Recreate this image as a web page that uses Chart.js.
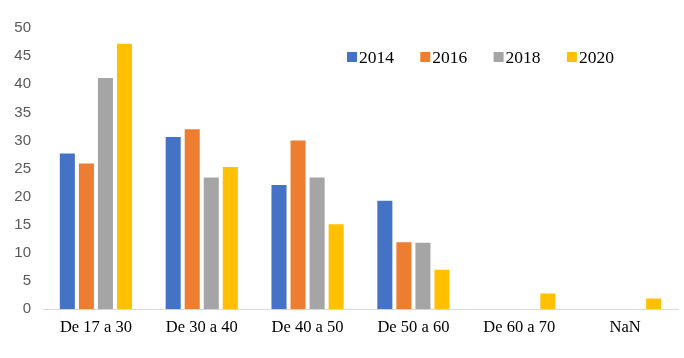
<!DOCTYPE html>
<html>
<head>
<meta charset="utf-8">
<script src="https://cdn.jsdelivr.net/npm/chart.js@4"></script>
<style>
html,body{margin:0;padding:0;background:#fff;}
#wrap{width:684px;height:358px;}
</style>
</head>
<body>
<div id="wrap"><canvas id="c" width="684" height="358"></canvas></div>
<script>
const categories = ["De 17 a 30", "De 30 a 40", "De 40 a 50", "De 50 a 60", "De 60 a 70", "NaN"];
const seriesLabels = ["2014", "2016", "2018", "2020"];
const s2014 = [27.7, 30.6, 22.1, 19.3, 0, 0];
const s2016 = [25.9, 32.0, 30.0, 11.9, 0, 0];
const s2018 = [41.1, 23.4, 23.4, 11.8, 0, 0];
const s2020 = [47.2, 25.3, 15.1, 7.0, 2.8, 1.9];
const yTicks = [0, 5, 10, 15, 20, 25, 30, 35, 40, 45, 50];
const colors = ["#4472C4", "#ED7D31", "#A5A5A5", "#FFC000"];

const legendPlugin = {
  id: 'customLegend',
  afterDraw(chart) {
    const ctx = chart.ctx;
    const startX = 347, y = 57, step = 73.3;
    ctx.save();
    ctx.font = '17.5px "Liberation Serif", "Times New Roman", serif';
    ctx.textBaseline = 'middle';
    ctx.textAlign = 'left';
    chart.data.datasets.forEach((ds, i) => {
      const x = startX + i * step;
      ctx.fillStyle = ds.backgroundColor;
      ctx.fillRect(x, y - 5, 10, 10);
      ctx.fillStyle = '#000';
      ctx.fillText(ds.label, x + 12, y + 1);
    });
    ctx.restore();
  }
};

new Chart(document.getElementById('c'), {
  type: 'bar',
  data: {
    labels: categories,
    datasets: [s2014, s2016, s2018, s2020].map((d, i) => ({
      label: seriesLabels[i],
      data: d,
      backgroundColor: colors[i],
      borderWidth: 0,
      categoryPercentage: 0.72,
      barPercentage: 0.79
    }))
  },
  options: {
    responsive: false,
    animation: false,
    layout: { padding: { top: 28, right: 6, left: 0, bottom: 11 } },
    plugins: {
      legend: { display: false },
      tooltip: { enabled: false }
    },
    scales: {
      x: {
        grid: { display: false, drawTicks: false },
        border: { display: true, color: '#D9D9D9', width: 1 },
        ticks: {
          color: '#000',
          font: { family: '"Liberation Serif", "Times New Roman", serif', size: 16.5 },
          padding: 9,
          maxRotation: 0
        }
      },
      y: {
        min: 0, max: 50,
        afterBuildTicks(axis) { axis.ticks = yTicks.map(v => ({ value: v })); },
        grid: { display: false, drawTicks: false },
        border: { display: false },
        ticks: {
          color: '#595959',
          font: { family: '"Liberation Sans", Arial, sans-serif', size: 15 },
          padding: 12
        },
        afterFit(axis) { axis.width = 43; }
      }
    }
  },
  plugins: [legendPlugin]
});
</script>
</body>
</html>
